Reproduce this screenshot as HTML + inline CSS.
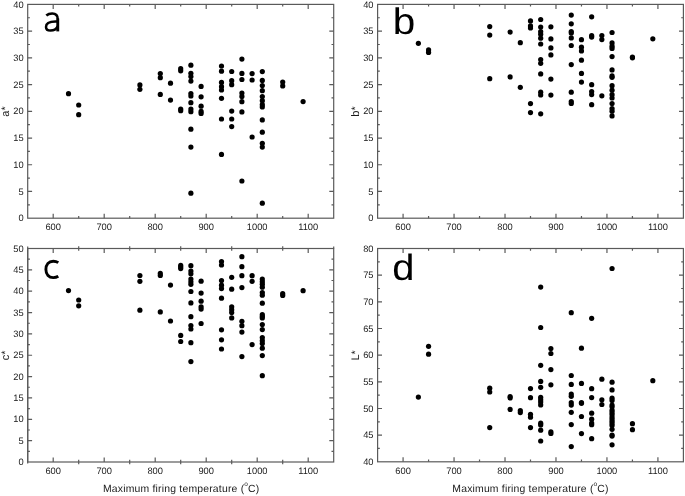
<!DOCTYPE html>
<html><head><meta charset="utf-8"><style>
html,body{margin:0;padding:0;background:#fff;}
body{width:685px;height:496px;overflow:hidden;}
svg{display:block;will-change:transform;}
text{font-family:"Liberation Sans",sans-serif;fill:#1a1a1a;text-rendering:geometricPrecision;}
.tl{font-size:9.3px;}
.yt{font-size:11px;}
.xt{font-size:10.4px;letter-spacing:0.2px;}
.deg{font-size:6.5px;letter-spacing:0;}
.sup{font-size:7px;}
.big{font-size:37px;fill:#000;}
</style></head><body>
<svg width="685" height="496" viewBox="0 0 685 496">
<rect width="685" height="496" fill="#fff"/>
<rect x="27.70" y="4.40" width="306.00" height="213.80" fill="none" stroke="#5a5a5a" stroke-width="1.2"/>
<path d="M53.20 218.20v-4.5M53.20 4.40v4.5M78.70 218.20v-2.2M78.70 4.40v2.2M104.20 218.20v-4.5M104.20 4.40v4.5M129.70 218.20v-2.2M129.70 4.40v2.2M155.20 218.20v-4.5M155.20 4.40v4.5M180.70 218.20v-2.2M180.70 4.40v2.2M206.20 218.20v-4.5M206.20 4.40v4.5M231.70 218.20v-2.2M231.70 4.40v2.2M257.20 218.20v-4.5M257.20 4.40v4.5M282.70 218.20v-2.2M282.70 4.40v2.2M308.20 218.20v-4.5M308.20 4.40v4.5M27.70 204.84h2.2M333.70 204.84h-2.2M27.70 191.47h4.4M333.70 191.47h-4.4M27.70 178.11h2.2M333.70 178.11h-2.2M27.70 164.75h4.4M333.70 164.75h-4.4M27.70 151.39h2.2M333.70 151.39h-2.2M27.70 138.03h4.4M333.70 138.03h-4.4M27.70 124.66h2.2M333.70 124.66h-2.2M27.70 111.30h4.4M333.70 111.30h-4.4M27.70 97.94h2.2M333.70 97.94h-2.2M27.70 84.57h4.4M333.70 84.57h-4.4M27.70 71.21h2.2M333.70 71.21h-2.2M27.70 57.85h4.4M333.70 57.85h-4.4M27.70 44.49h2.2M333.70 44.49h-2.2M27.70 31.12h4.4M333.70 31.12h-4.4M27.70 17.76h2.2M333.70 17.76h-2.2" stroke="#5a5a5a" stroke-width="1.2" fill="none"/>
<text x="53.20" y="229.60" class="tl" text-anchor="middle">600</text>
<text x="104.20" y="229.60" class="tl" text-anchor="middle">700</text>
<text x="155.20" y="229.60" class="tl" text-anchor="middle">800</text>
<text x="206.20" y="229.60" class="tl" text-anchor="middle">900</text>
<text x="257.20" y="229.60" class="tl" text-anchor="middle">1000</text>
<text x="308.20" y="229.60" class="tl" text-anchor="middle">1100</text>
<text x="23.60" y="221.35" class="tl" text-anchor="end">0</text>
<text x="23.60" y="194.62" class="tl" text-anchor="end">5</text>
<text x="23.60" y="167.90" class="tl" text-anchor="end">10</text>
<text x="23.60" y="141.18" class="tl" text-anchor="end">15</text>
<text x="23.60" y="114.45" class="tl" text-anchor="end">20</text>
<text x="23.60" y="87.72" class="tl" text-anchor="end">25</text>
<text x="23.60" y="61.00" class="tl" text-anchor="end">30</text>
<text x="23.60" y="34.27" class="tl" text-anchor="end">35</text>
<text x="23.60" y="7.55" class="tl" text-anchor="end">40</text>
<text transform="translate(9.20,111.50) rotate(-90)" class="yt" text-anchor="middle">a*</text>
<g fill="#000"><circle cx="68.50" cy="93.70" r="2.6"/><circle cx="78.70" cy="105.00" r="2.6"/><circle cx="78.70" cy="114.70" r="2.6"/><circle cx="139.90" cy="84.90" r="2.6"/><circle cx="139.90" cy="89.30" r="2.6"/><circle cx="160.30" cy="73.50" r="2.6"/><circle cx="160.30" cy="77.70" r="2.6"/><circle cx="160.30" cy="94.40" r="2.6"/><circle cx="170.50" cy="83.20" r="2.6"/><circle cx="170.50" cy="100.10" r="2.6"/><circle cx="180.70" cy="68.70" r="2.6"/><circle cx="180.70" cy="70.80" r="2.6"/><circle cx="180.70" cy="109.10" r="2.6"/><circle cx="180.70" cy="110.70" r="2.6"/><circle cx="190.90" cy="65.20" r="2.6"/><circle cx="190.90" cy="73.30" r="2.6"/><circle cx="190.90" cy="76.50" r="2.6"/><circle cx="190.90" cy="81.10" r="2.6"/><circle cx="190.90" cy="93.60" r="2.6"/><circle cx="190.90" cy="96.00" r="2.6"/><circle cx="190.90" cy="102.70" r="2.6"/><circle cx="190.90" cy="109.00" r="2.6"/><circle cx="190.90" cy="111.70" r="2.6"/><circle cx="190.90" cy="129.20" r="2.6"/><circle cx="190.90" cy="147.10" r="2.6"/><circle cx="190.90" cy="193.20" r="2.6"/><circle cx="201.10" cy="86.40" r="2.6"/><circle cx="201.10" cy="96.80" r="2.6"/><circle cx="201.10" cy="106.20" r="2.6"/><circle cx="201.10" cy="111.40" r="2.6"/><circle cx="201.10" cy="113.40" r="2.6"/><circle cx="221.50" cy="66.00" r="2.6"/><circle cx="221.50" cy="71.20" r="2.6"/><circle cx="221.50" cy="82.40" r="2.6"/><circle cx="221.50" cy="86.70" r="2.6"/><circle cx="221.50" cy="90.00" r="2.6"/><circle cx="221.50" cy="98.30" r="2.6"/><circle cx="221.50" cy="119.00" r="2.6"/><circle cx="221.50" cy="154.40" r="2.6"/><circle cx="231.70" cy="71.50" r="2.6"/><circle cx="231.70" cy="80.70" r="2.6"/><circle cx="231.70" cy="84.70" r="2.6"/><circle cx="231.70" cy="111.10" r="2.6"/><circle cx="231.70" cy="119.00" r="2.6"/><circle cx="231.70" cy="126.60" r="2.6"/><circle cx="241.90" cy="59.10" r="2.6"/><circle cx="241.90" cy="73.40" r="2.6"/><circle cx="241.90" cy="79.50" r="2.6"/><circle cx="241.90" cy="93.00" r="2.6"/><circle cx="241.90" cy="96.40" r="2.6"/><circle cx="241.90" cy="101.70" r="2.6"/><circle cx="241.90" cy="111.90" r="2.6"/><circle cx="241.90" cy="181.00" r="2.6"/><circle cx="252.10" cy="73.60" r="2.6"/><circle cx="252.10" cy="80.00" r="2.6"/><circle cx="252.10" cy="137.00" r="2.6"/><circle cx="262.30" cy="71.60" r="2.6"/><circle cx="262.30" cy="80.40" r="2.6"/><circle cx="262.30" cy="85.60" r="2.6"/><circle cx="262.30" cy="90.70" r="2.6"/><circle cx="262.30" cy="96.50" r="2.6"/><circle cx="262.30" cy="100.70" r="2.6"/><circle cx="262.30" cy="104.70" r="2.6"/><circle cx="262.30" cy="107.00" r="2.6"/><circle cx="262.30" cy="119.90" r="2.6"/><circle cx="262.30" cy="132.20" r="2.6"/><circle cx="262.30" cy="143.30" r="2.6"/><circle cx="262.30" cy="147.10" r="2.6"/><circle cx="262.30" cy="203.20" r="2.6"/><circle cx="282.70" cy="82.00" r="2.6"/><circle cx="282.70" cy="85.90" r="2.6"/><circle cx="303.10" cy="101.60" r="2.6"/></g>
<rect x="377.60" y="4.40" width="305.80" height="213.80" fill="none" stroke="#5a5a5a" stroke-width="1.2"/>
<path d="M403.08 218.20v-4.5M403.08 4.40v4.5M428.57 218.20v-2.2M428.57 4.40v2.2M454.05 218.20v-4.5M454.05 4.40v4.5M479.53 218.20v-2.2M479.53 4.40v2.2M505.02 218.20v-4.5M505.02 4.40v4.5M530.50 218.20v-2.2M530.50 4.40v2.2M555.98 218.20v-4.5M555.98 4.40v4.5M581.47 218.20v-2.2M581.47 4.40v2.2M606.95 218.20v-4.5M606.95 4.40v4.5M632.43 218.20v-2.2M632.43 4.40v2.2M657.92 218.20v-4.5M657.92 4.40v4.5M377.60 204.84h2.2M683.40 204.84h-2.2M377.60 191.47h4.4M683.40 191.47h-4.4M377.60 178.11h2.2M683.40 178.11h-2.2M377.60 164.75h4.4M683.40 164.75h-4.4M377.60 151.39h2.2M683.40 151.39h-2.2M377.60 138.03h4.4M683.40 138.03h-4.4M377.60 124.66h2.2M683.40 124.66h-2.2M377.60 111.30h4.4M683.40 111.30h-4.4M377.60 97.94h2.2M683.40 97.94h-2.2M377.60 84.57h4.4M683.40 84.57h-4.4M377.60 71.21h2.2M683.40 71.21h-2.2M377.60 57.85h4.4M683.40 57.85h-4.4M377.60 44.49h2.2M683.40 44.49h-2.2M377.60 31.12h4.4M683.40 31.12h-4.4M377.60 17.76h2.2M683.40 17.76h-2.2" stroke="#5a5a5a" stroke-width="1.2" fill="none"/>
<text x="403.08" y="229.60" class="tl" text-anchor="middle">600</text>
<text x="454.05" y="229.60" class="tl" text-anchor="middle">700</text>
<text x="505.02" y="229.60" class="tl" text-anchor="middle">800</text>
<text x="555.98" y="229.60" class="tl" text-anchor="middle">900</text>
<text x="606.95" y="229.60" class="tl" text-anchor="middle">1000</text>
<text x="657.92" y="229.60" class="tl" text-anchor="middle">1100</text>
<text x="373.50" y="221.35" class="tl" text-anchor="end">0</text>
<text x="373.50" y="194.62" class="tl" text-anchor="end">5</text>
<text x="373.50" y="167.90" class="tl" text-anchor="end">10</text>
<text x="373.50" y="141.18" class="tl" text-anchor="end">15</text>
<text x="373.50" y="114.45" class="tl" text-anchor="end">20</text>
<text x="373.50" y="87.72" class="tl" text-anchor="end">25</text>
<text x="373.50" y="61.00" class="tl" text-anchor="end">30</text>
<text x="373.50" y="34.27" class="tl" text-anchor="end">35</text>
<text x="373.50" y="7.55" class="tl" text-anchor="end">40</text>
<text transform="translate(359.10,111.50) rotate(-90)" class="yt" text-anchor="middle">b*</text>
<g fill="#000"><circle cx="418.37" cy="43.30" r="2.6"/><circle cx="428.57" cy="49.90" r="2.6"/><circle cx="428.57" cy="52.40" r="2.6"/><circle cx="489.73" cy="26.60" r="2.6"/><circle cx="489.73" cy="35.10" r="2.6"/><circle cx="489.73" cy="78.70" r="2.6"/><circle cx="510.11" cy="32.10" r="2.6"/><circle cx="510.11" cy="76.90" r="2.6"/><circle cx="520.31" cy="42.70" r="2.6"/><circle cx="520.31" cy="87.30" r="2.6"/><circle cx="530.50" cy="20.90" r="2.6"/><circle cx="530.50" cy="25.90" r="2.6"/><circle cx="530.50" cy="28.00" r="2.6"/><circle cx="530.50" cy="103.60" r="2.6"/><circle cx="530.50" cy="112.60" r="2.6"/><circle cx="540.69" cy="19.50" r="2.6"/><circle cx="540.69" cy="27.00" r="2.6"/><circle cx="540.69" cy="31.50" r="2.6"/><circle cx="540.69" cy="34.20" r="2.6"/><circle cx="540.69" cy="38.20" r="2.6"/><circle cx="540.69" cy="44.00" r="2.6"/><circle cx="540.69" cy="59.60" r="2.6"/><circle cx="540.69" cy="63.30" r="2.6"/><circle cx="540.69" cy="73.90" r="2.6"/><circle cx="540.69" cy="92.20" r="2.6"/><circle cx="540.69" cy="95.00" r="2.6"/><circle cx="540.69" cy="113.80" r="2.6"/><circle cx="550.89" cy="26.80" r="2.6"/><circle cx="550.89" cy="38.90" r="2.6"/><circle cx="550.89" cy="47.90" r="2.6"/><circle cx="550.89" cy="54.90" r="2.6"/><circle cx="550.89" cy="79.10" r="2.6"/><circle cx="550.89" cy="95.10" r="2.6"/><circle cx="571.27" cy="15.10" r="2.6"/><circle cx="571.27" cy="23.80" r="2.6"/><circle cx="571.27" cy="31.50" r="2.6"/><circle cx="571.27" cy="33.00" r="2.6"/><circle cx="571.27" cy="37.90" r="2.6"/><circle cx="571.27" cy="45.50" r="2.6"/><circle cx="571.27" cy="64.60" r="2.6"/><circle cx="571.27" cy="92.20" r="2.6"/><circle cx="571.27" cy="101.50" r="2.6"/><circle cx="571.27" cy="103.50" r="2.6"/><circle cx="581.47" cy="39.70" r="2.6"/><circle cx="581.47" cy="47.20" r="2.6"/><circle cx="581.47" cy="50.90" r="2.6"/><circle cx="581.47" cy="60.20" r="2.6"/><circle cx="581.47" cy="73.40" r="2.6"/><circle cx="581.47" cy="82.10" r="2.6"/><circle cx="591.66" cy="16.80" r="2.6"/><circle cx="591.66" cy="35.70" r="2.6"/><circle cx="591.66" cy="37.10" r="2.6"/><circle cx="591.66" cy="84.70" r="2.6"/><circle cx="591.66" cy="91.60" r="2.6"/><circle cx="591.66" cy="94.60" r="2.6"/><circle cx="591.66" cy="104.70" r="2.6"/><circle cx="601.85" cy="35.60" r="2.6"/><circle cx="601.85" cy="39.60" r="2.6"/><circle cx="601.85" cy="95.80" r="2.6"/><circle cx="612.05" cy="32.50" r="2.6"/><circle cx="612.05" cy="42.90" r="2.6"/><circle cx="612.05" cy="46.20" r="2.6"/><circle cx="612.05" cy="48.40" r="2.6"/><circle cx="612.05" cy="56.60" r="2.6"/><circle cx="612.05" cy="69.90" r="2.6"/><circle cx="612.05" cy="75.90" r="2.6"/><circle cx="612.05" cy="77.30" r="2.6"/><circle cx="612.05" cy="85.70" r="2.6"/><circle cx="612.05" cy="90.20" r="2.6"/><circle cx="612.05" cy="94.70" r="2.6"/><circle cx="612.05" cy="98.00" r="2.6"/><circle cx="612.05" cy="103.50" r="2.6"/><circle cx="612.05" cy="108.60" r="2.6"/><circle cx="612.05" cy="111.20" r="2.6"/><circle cx="612.05" cy="115.90" r="2.6"/><circle cx="632.43" cy="57.00" r="2.6"/><circle cx="632.43" cy="57.80" r="2.6"/><circle cx="652.82" cy="38.80" r="2.6"/></g>
<rect x="27.70" y="248.50" width="306.00" height="213.50" fill="none" stroke="#5a5a5a" stroke-width="1.2"/>
<path d="M53.20 462.00v-4.5M53.20 248.50v4.5M78.70 464.20v-4.4M78.70 246.30v4.4M104.20 462.00v-4.5M104.20 248.50v4.5M129.70 464.20v-4.4M129.70 246.30v4.4M155.20 462.00v-4.5M155.20 248.50v4.5M180.70 464.20v-4.4M180.70 246.30v4.4M206.20 462.00v-4.5M206.20 248.50v4.5M231.70 464.20v-4.4M231.70 246.30v4.4M257.20 462.00v-4.5M257.20 248.50v4.5M282.70 464.20v-4.4M282.70 246.30v4.4M308.20 462.00v-4.5M308.20 248.50v4.5M27.70 451.32h2.2M333.70 451.32h-2.2M27.70 440.65h4.4M333.70 440.65h-4.4M27.70 429.98h2.2M333.70 429.98h-2.2M27.70 419.30h4.4M333.70 419.30h-4.4M27.70 408.62h2.2M333.70 408.62h-2.2M27.70 397.95h4.4M333.70 397.95h-4.4M27.70 387.27h2.2M333.70 387.27h-2.2M27.70 376.60h4.4M333.70 376.60h-4.4M27.70 365.93h2.2M333.70 365.93h-2.2M27.70 355.25h4.4M333.70 355.25h-4.4M27.70 344.57h2.2M333.70 344.57h-2.2M27.70 333.90h4.4M333.70 333.90h-4.4M27.70 323.23h2.2M333.70 323.23h-2.2M27.70 312.55h4.4M333.70 312.55h-4.4M27.70 301.88h2.2M333.70 301.88h-2.2M27.70 291.20h4.4M333.70 291.20h-4.4M27.70 280.52h2.2M333.70 280.52h-2.2M27.70 269.85h4.4M333.70 269.85h-4.4M27.70 259.18h2.2M333.70 259.18h-2.2M27.70 246.50V463.50M333.70 246.50V248.50" stroke="#5a5a5a" stroke-width="1.2" fill="none"/>
<text x="53.20" y="474.00" class="tl" text-anchor="middle">600</text>
<text x="104.20" y="474.00" class="tl" text-anchor="middle">700</text>
<text x="155.20" y="474.00" class="tl" text-anchor="middle">800</text>
<text x="206.20" y="474.00" class="tl" text-anchor="middle">900</text>
<text x="257.20" y="474.00" class="tl" text-anchor="middle">1000</text>
<text x="308.20" y="474.00" class="tl" text-anchor="middle">1100</text>
<text x="23.60" y="465.15" class="tl" text-anchor="end">0</text>
<text x="23.60" y="443.80" class="tl" text-anchor="end">5</text>
<text x="23.60" y="422.45" class="tl" text-anchor="end">10</text>
<text x="23.60" y="401.10" class="tl" text-anchor="end">15</text>
<text x="23.60" y="379.75" class="tl" text-anchor="end">20</text>
<text x="23.60" y="358.40" class="tl" text-anchor="end">25</text>
<text x="23.60" y="337.05" class="tl" text-anchor="end">30</text>
<text x="23.60" y="315.70" class="tl" text-anchor="end">35</text>
<text x="23.60" y="294.35" class="tl" text-anchor="end">40</text>
<text x="23.60" y="273.00" class="tl" text-anchor="end">45</text>
<text x="23.60" y="251.65" class="tl" text-anchor="end">50</text>
<text transform="translate(9.20,355.45) rotate(-90)" class="yt" text-anchor="middle">c*</text>
<g fill="#000"><circle cx="68.50" cy="290.60" r="2.6"/><circle cx="78.70" cy="300.00" r="2.6"/><circle cx="78.70" cy="305.80" r="2.6"/><circle cx="139.90" cy="275.50" r="2.6"/><circle cx="139.90" cy="281.30" r="2.6"/><circle cx="139.90" cy="310.20" r="2.6"/><circle cx="160.30" cy="273.40" r="2.6"/><circle cx="160.30" cy="275.50" r="2.6"/><circle cx="160.30" cy="311.90" r="2.6"/><circle cx="170.50" cy="285.10" r="2.6"/><circle cx="170.50" cy="321.00" r="2.6"/><circle cx="180.70" cy="265.40" r="2.6"/><circle cx="180.70" cy="267.00" r="2.6"/><circle cx="180.70" cy="268.60" r="2.6"/><circle cx="180.70" cy="335.40" r="2.6"/><circle cx="180.70" cy="341.50" r="2.6"/><circle cx="190.90" cy="265.70" r="2.6"/><circle cx="190.90" cy="271.10" r="2.6"/><circle cx="190.90" cy="273.80" r="2.6"/><circle cx="190.90" cy="279.00" r="2.6"/><circle cx="190.90" cy="281.80" r="2.6"/><circle cx="190.90" cy="284.30" r="2.6"/><circle cx="190.90" cy="291.50" r="2.6"/><circle cx="190.90" cy="302.90" r="2.6"/><circle cx="190.90" cy="316.70" r="2.6"/><circle cx="190.90" cy="325.50" r="2.6"/><circle cx="190.90" cy="329.00" r="2.6"/><circle cx="190.90" cy="342.70" r="2.6"/><circle cx="190.90" cy="361.60" r="2.6"/><circle cx="201.10" cy="281.20" r="2.6"/><circle cx="201.10" cy="293.10" r="2.6"/><circle cx="201.10" cy="301.20" r="2.6"/><circle cx="201.10" cy="306.80" r="2.6"/><circle cx="201.10" cy="309.10" r="2.6"/><circle cx="201.10" cy="323.50" r="2.6"/><circle cx="221.50" cy="261.50" r="2.6"/><circle cx="221.50" cy="265.00" r="2.6"/><circle cx="221.50" cy="280.50" r="2.6"/><circle cx="221.50" cy="285.20" r="2.6"/><circle cx="221.50" cy="288.60" r="2.6"/><circle cx="221.50" cy="298.20" r="2.6"/><circle cx="221.50" cy="329.80" r="2.6"/><circle cx="221.50" cy="339.80" r="2.6"/><circle cx="221.50" cy="349.00" r="2.6"/><circle cx="231.70" cy="277.30" r="2.6"/><circle cx="231.70" cy="289.20" r="2.6"/><circle cx="231.70" cy="306.80" r="2.6"/><circle cx="231.70" cy="309.70" r="2.6"/><circle cx="231.70" cy="312.60" r="2.6"/><circle cx="231.70" cy="317.90" r="2.6"/><circle cx="241.90" cy="256.70" r="2.6"/><circle cx="241.90" cy="266.70" r="2.6"/><circle cx="241.90" cy="275.70" r="2.6"/><circle cx="241.90" cy="287.60" r="2.6"/><circle cx="241.90" cy="321.30" r="2.6"/><circle cx="241.90" cy="325.70" r="2.6"/><circle cx="241.90" cy="332.10" r="2.6"/><circle cx="241.90" cy="356.60" r="2.6"/><circle cx="252.10" cy="275.70" r="2.6"/><circle cx="252.10" cy="281.30" r="2.6"/><circle cx="252.10" cy="344.60" r="2.6"/><circle cx="262.30" cy="279.10" r="2.6"/><circle cx="262.30" cy="281.70" r="2.6"/><circle cx="262.30" cy="284.20" r="2.6"/><circle cx="262.30" cy="287.20" r="2.6"/><circle cx="262.30" cy="292.60" r="2.6"/><circle cx="262.30" cy="295.20" r="2.6"/><circle cx="262.30" cy="303.20" r="2.6"/><circle cx="262.30" cy="314.70" r="2.6"/><circle cx="262.30" cy="316.50" r="2.6"/><circle cx="262.30" cy="318.00" r="2.6"/><circle cx="262.30" cy="324.50" r="2.6"/><circle cx="262.30" cy="329.60" r="2.6"/><circle cx="262.30" cy="337.60" r="2.6"/><circle cx="262.30" cy="340.70" r="2.6"/><circle cx="262.30" cy="343.60" r="2.6"/><circle cx="262.30" cy="348.20" r="2.6"/><circle cx="262.30" cy="355.60" r="2.6"/><circle cx="262.30" cy="375.70" r="2.6"/><circle cx="282.70" cy="293.50" r="2.6"/><circle cx="282.70" cy="295.40" r="2.6"/><circle cx="303.10" cy="290.70" r="2.6"/></g>
<rect x="377.60" y="248.50" width="305.80" height="213.30" fill="none" stroke="#5a5a5a" stroke-width="1.2"/>
<path d="M403.08 461.80v-4.5M403.08 248.50v4.5M428.57 461.80v-2.2M428.57 248.50v2.2M454.05 461.80v-4.5M454.05 248.50v4.5M479.53 461.80v-2.2M479.53 248.50v2.2M505.02 461.80v-4.5M505.02 248.50v4.5M530.50 461.80v-2.2M530.50 248.50v2.2M555.98 461.80v-4.5M555.98 248.50v4.5M581.47 461.80v-2.2M581.47 248.50v2.2M606.95 461.80v-4.5M606.95 248.50v4.5M632.43 461.80v-2.2M632.43 248.50v2.2M657.92 461.80v-4.5M657.92 248.50v4.5M377.60 448.47h2.2M683.40 448.47h-2.2M377.60 435.14h4.4M683.40 435.14h-4.4M377.60 421.81h2.2M683.40 421.81h-2.2M377.60 408.48h4.4M683.40 408.48h-4.4M377.60 395.14h2.2M683.40 395.14h-2.2M377.60 381.81h4.4M683.40 381.81h-4.4M377.60 368.48h2.2M683.40 368.48h-2.2M377.60 355.15h4.4M683.40 355.15h-4.4M377.60 341.82h2.2M683.40 341.82h-2.2M377.60 328.49h4.4M683.40 328.49h-4.4M377.60 315.16h2.2M683.40 315.16h-2.2M377.60 301.83h4.4M683.40 301.83h-4.4M377.60 288.49h2.2M683.40 288.49h-2.2M377.60 275.16h4.4M683.40 275.16h-4.4M377.60 261.83h2.2M683.40 261.83h-2.2" stroke="#5a5a5a" stroke-width="1.2" fill="none"/>
<text x="403.08" y="473.80" class="tl" text-anchor="middle">600</text>
<text x="454.05" y="473.80" class="tl" text-anchor="middle">700</text>
<text x="505.02" y="473.80" class="tl" text-anchor="middle">800</text>
<text x="555.98" y="473.80" class="tl" text-anchor="middle">900</text>
<text x="606.95" y="473.80" class="tl" text-anchor="middle">1000</text>
<text x="657.92" y="473.80" class="tl" text-anchor="middle">1100</text>
<text x="373.50" y="464.95" class="tl" text-anchor="end">40</text>
<text x="373.50" y="438.29" class="tl" text-anchor="end">45</text>
<text x="373.50" y="411.62" class="tl" text-anchor="end">50</text>
<text x="373.50" y="384.96" class="tl" text-anchor="end">55</text>
<text x="373.50" y="358.30" class="tl" text-anchor="end">60</text>
<text x="373.50" y="331.64" class="tl" text-anchor="end">65</text>
<text x="373.50" y="304.98" class="tl" text-anchor="end">70</text>
<text x="373.50" y="278.31" class="tl" text-anchor="end">75</text>
<text x="373.50" y="251.65" class="tl" text-anchor="end">80</text>
<text transform="translate(359.10,355.35) rotate(-90)" class="yt" text-anchor="middle">L*</text>
<g fill="#000"><circle cx="418.37" cy="397.10" r="2.6"/><circle cx="428.57" cy="346.30" r="2.6"/><circle cx="428.57" cy="354.20" r="2.6"/><circle cx="489.73" cy="388.20" r="2.6"/><circle cx="489.73" cy="392.00" r="2.6"/><circle cx="489.73" cy="427.60" r="2.6"/><circle cx="510.11" cy="396.70" r="2.6"/><circle cx="510.11" cy="397.90" r="2.6"/><circle cx="510.11" cy="409.40" r="2.6"/><circle cx="520.31" cy="410.60" r="2.6"/><circle cx="520.31" cy="412.60" r="2.6"/><circle cx="530.50" cy="388.60" r="2.6"/><circle cx="530.50" cy="397.70" r="2.6"/><circle cx="530.50" cy="414.30" r="2.6"/><circle cx="530.50" cy="417.20" r="2.6"/><circle cx="530.50" cy="427.60" r="2.6"/><circle cx="540.69" cy="287.10" r="2.6"/><circle cx="540.69" cy="327.50" r="2.6"/><circle cx="540.69" cy="365.30" r="2.6"/><circle cx="540.69" cy="381.40" r="2.6"/><circle cx="540.69" cy="387.30" r="2.6"/><circle cx="540.69" cy="397.30" r="2.6"/><circle cx="540.69" cy="399.70" r="2.6"/><circle cx="540.69" cy="402.00" r="2.6"/><circle cx="540.69" cy="404.90" r="2.6"/><circle cx="540.69" cy="423.20" r="2.6"/><circle cx="540.69" cy="424.90" r="2.6"/><circle cx="540.69" cy="430.20" r="2.6"/><circle cx="540.69" cy="441.00" r="2.6"/><circle cx="550.89" cy="348.60" r="2.6"/><circle cx="550.89" cy="353.50" r="2.6"/><circle cx="550.89" cy="369.60" r="2.6"/><circle cx="550.89" cy="384.80" r="2.6"/><circle cx="550.89" cy="431.80" r="2.6"/><circle cx="550.89" cy="433.50" r="2.6"/><circle cx="571.27" cy="312.70" r="2.6"/><circle cx="571.27" cy="375.50" r="2.6"/><circle cx="571.27" cy="384.40" r="2.6"/><circle cx="571.27" cy="394.10" r="2.6"/><circle cx="571.27" cy="396.30" r="2.6"/><circle cx="571.27" cy="402.70" r="2.6"/><circle cx="571.27" cy="405.10" r="2.6"/><circle cx="571.27" cy="412.30" r="2.6"/><circle cx="571.27" cy="424.60" r="2.6"/><circle cx="571.27" cy="446.60" r="2.6"/><circle cx="581.47" cy="348.20" r="2.6"/><circle cx="581.47" cy="383.40" r="2.6"/><circle cx="581.47" cy="402.60" r="2.6"/><circle cx="581.47" cy="403.30" r="2.6"/><circle cx="581.47" cy="416.50" r="2.6"/><circle cx="581.47" cy="433.60" r="2.6"/><circle cx="591.66" cy="318.30" r="2.6"/><circle cx="591.66" cy="388.70" r="2.6"/><circle cx="591.66" cy="397.60" r="2.6"/><circle cx="591.66" cy="413.20" r="2.6"/><circle cx="591.66" cy="419.20" r="2.6"/><circle cx="591.66" cy="423.10" r="2.6"/><circle cx="591.66" cy="424.70" r="2.6"/><circle cx="591.66" cy="438.70" r="2.6"/><circle cx="601.85" cy="379.20" r="2.6"/><circle cx="601.85" cy="399.80" r="2.6"/><circle cx="601.85" cy="404.50" r="2.6"/><circle cx="612.05" cy="268.50" r="2.6"/><circle cx="612.05" cy="382.20" r="2.6"/><circle cx="612.05" cy="389.90" r="2.6"/><circle cx="612.05" cy="398.20" r="2.6"/><circle cx="612.05" cy="400.50" r="2.6"/><circle cx="612.05" cy="405.10" r="2.6"/><circle cx="612.05" cy="406.80" r="2.6"/><circle cx="612.05" cy="410.20" r="2.6"/><circle cx="612.05" cy="412.40" r="2.6"/><circle cx="612.05" cy="414.60" r="2.6"/><circle cx="612.05" cy="417.00" r="2.6"/><circle cx="612.05" cy="419.00" r="2.6"/><circle cx="612.05" cy="421.20" r="2.6"/><circle cx="612.05" cy="423.40" r="2.6"/><circle cx="612.05" cy="425.60" r="2.6"/><circle cx="612.05" cy="429.30" r="2.6"/><circle cx="612.05" cy="435.00" r="2.6"/><circle cx="612.05" cy="436.10" r="2.6"/><circle cx="612.05" cy="444.80" r="2.6"/><circle cx="632.43" cy="423.70" r="2.6"/><circle cx="632.43" cy="429.70" r="2.6"/><circle cx="652.82" cy="380.70" r="2.6"/></g>
<g fill="none" stroke="#000" stroke-width="2.5"><path d="M46.3,15.5 C47.8,14.1 49.8,13.4 52.2,13.4 C56,13.4 57.75,15.4 57.75,19.2"/><path d="M57.75,18.5 V31.4" stroke-width="2.9"/><path d="M57.75,21.6 H55.5 C50,21.6 46.0,23.4 46.0,27 C46.0,29.4 47.9,30.6 50.5,30.6 C53.6,30.6 56.5,28.8 57.75,26.4"/></g>
<text transform="translate(392.67,33.70) scale(1.094,1)" class="big" style="font-size:36.99px">b</text>
<path fill="none" stroke="#000" stroke-width="2.9" d="M58.3,262.6 C56.8,261.6 55,261.2 53.2,261.2 C48.8,261.2 45.9,264.6 45.9,269.6 C45.9,274.5 48.9,277.6 53.2,277.6 C55,277.6 56.8,277.2 58.3,276.3"/>
<text transform="translate(392.35,279.53) scale(1.085,1)" class="big" style="font-size:36.76px">d</text>
<text x="103.00" y="491.7" class="xt">Maximum firing temperature (<tspan class="deg" dy="-5.3">o</tspan><tspan dy="5.3">C)</tspan></text>
<text x="452.30" y="491.7" class="xt">Maximum firing temperature (<tspan class="deg" dy="-5.3">o</tspan><tspan dy="5.3">C)</tspan></text>
</svg>
</body></html>
